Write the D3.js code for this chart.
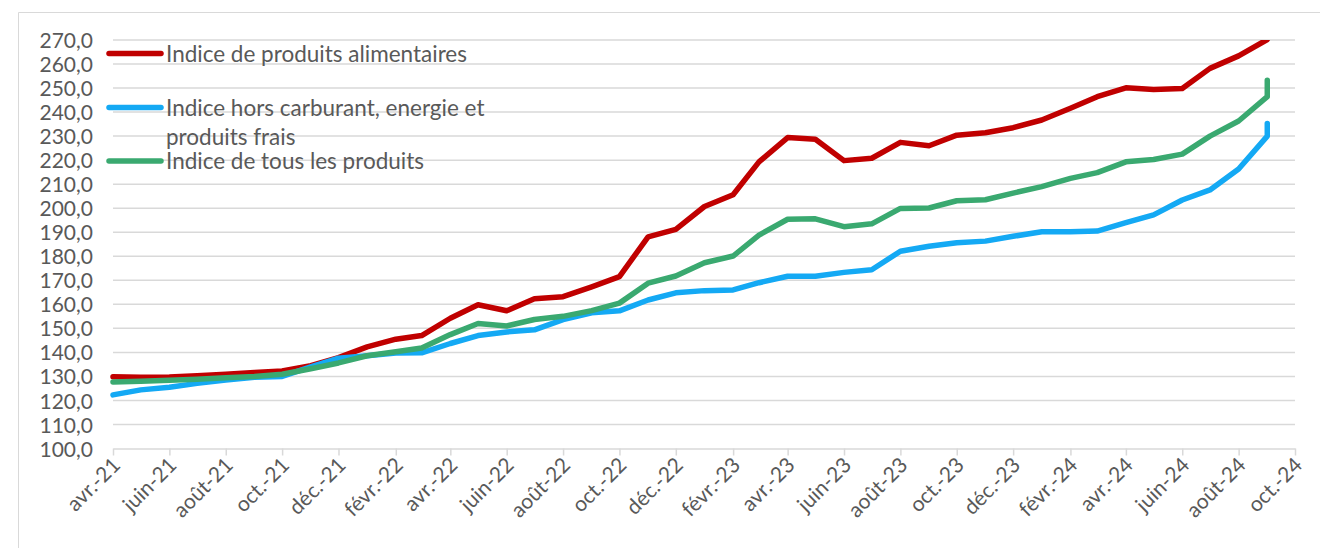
<!DOCTYPE html>
<html>
<head>
<meta charset="utf-8">
<script src="https://cdn.jsdelivr.net/npm/d3@7"></script>
<style>
	body {margin: 0; background: #fff;}
	text {font-family: Lato, 'Open Sans', sans-serif; fill: #595959;}
</style>
</head>
<body>
<svg id="chart" width="1320" height="548"></svg>
<script>
(function(){
	'use strict';

	// one point per month, the last month is given twice (revised value)
	var months = [
		'2021-04','2021-05','2021-06','2021-07','2021-08','2021-09','2021-10','2021-11','2021-12',
		'2022-01','2022-02','2022-03','2022-04','2022-05','2022-06','2022-07','2022-08','2022-09','2022-10','2022-11','2022-12',
		'2023-01','2023-02','2023-03','2023-04','2023-05','2023-06','2023-07','2023-08','2023-09','2023-10','2023-11','2023-12',
		'2024-01','2024-02','2024-03','2024-04','2024-05','2024-06','2024-07','2024-08','2024-09','2024-09'];

	var alimentaires = [
		129.9,129.6,129.8,130.3,130.9,131.6,132.3,134.5,137.8,
		142.3,145.5,147.0,154.2,159.8,157.3,162.3,163.2,167.3,171.5,188.1,191.2,
		200.7,205.6,219.3,229.4,228.7,219.8,220.8,227.4,226.0,230.4,231.4,233.5,
		236.7,241.6,246.4,250.1,249.4,249.8,258.2,263.4,270.2,277.0];

	var horsCarburant = [
		122.3,124.4,125.5,127.1,128.5,129.6,130.0,134.0,137.6,
		138.6,139.7,139.8,143.7,147.0,148.5,149.4,153.6,156.5,157.3,161.8,164.8,
		165.7,166.0,169.0,171.7,171.7,173.3,174.4,182.1,184.2,185.6,186.3,188.3,
		190.2,190.2,190.5,194.0,197.2,203.4,207.6,216.3,230.0,235.3];

	var tousProduits = [
		127.7,128.0,128.4,128.8,129.4,130.0,130.9,133.2,135.6,
		138.6,140.3,141.8,147.4,152.0,151.0,153.7,155.0,157.4,160.5,168.8,171.8,
		177.3,180.1,188.8,195.4,195.6,192.3,193.5,199.9,200.1,203.1,203.5,206.3,
		209.0,212.4,214.8,219.3,220.3,222.5,230.0,236.3,246.4,253.3];

	var seriesNames = [
		['Indice de produits alimentaires'],
		['Indice hors carburant, energie et', 'produits frais'],
		['Indice de tous les produits']];
	var seriesColors = ['#c00000', '#14a9f4', '#3aa970'];

	var tickLabels = ['avr.-21','juin-21','août-21','oct.-21','déc.-21','févr.-22','avr.-22','juin-22',
		'août-22','oct.-22','déc.-22','févr.-23','avr.-23','juin-23','août-23','oct.-23','déc.-23',
		'févr.-24','avr.-24','juin-24','août-24','oct.-24'];

	var yTicks = [100,110,120,130,140,150,160,170,180,190,200,210,220,230,240,250,260,270];

	var parse = d3.utcParse('%Y-%m');
	var dates = months.map(function(m) {return parse(m);});
	var series = [alimentaires, horsCarburant, tousProduits];

	var svg = d3.select('#chart');
	var left = 113, right = 1295, top = 40, bottom = 448.5;

	var x = d3.scaleUtc()
		.domain([parse('2021-04'), parse('2024-10')])
		.range([left, right]);
	var y = d3.scaleLinear()
		.domain([100, 270])
		.range([bottom, top]);

	// chart area border
	svg.append('path')
		.attr('d', 'M18.5,548V12.5H1320')
		.attr('fill', 'none')
		.attr('stroke', '#d9d9d9')
		.attr('stroke-width', 1);

	svg.append('g')
		.selectAll('line').data(yTicks.slice(1)).enter().append('line')
		.attr('x1', left).attr('x2', right)
		.attr('y1', function(d) {return y(d);})
		.attr('y2', function(d) {return y(d);})
		.attr('stroke', '#d9d9d9')
		.attr('stroke-width', 1.5);

	var yAxis = svg.append('g')
		.attr('transform', 'translate(' + left + ',0)')
		.call(d3.axisLeft(y)
			.tickValues(yTicks)
			.tickSize(0)
			.tickPadding(20)
			.tickFormat(function(d) {return d3.format('.1f')(d).replace('.', ',');}));
	yAxis.select('.domain').remove();
	yAxis.selectAll('text')
		.attr('font-size', 21)
		.attr('font-family', null)
		.attr('dy', '0.36em');

	var tickDates = d3.utcMonth.range(parse('2021-04'), parse('2024-11'), 2);
	var xAxis = svg.append('g')
		.attr('transform', 'translate(0,' + bottom + ')')
		.call(d3.axisBottom(x)
			.tickValues(tickDates)
			.tickSize(7)
			.tickSizeOuter(0)
			.tickFormat(function(d, i) {return tickLabels[i];}));
	xAxis.select('.domain').attr('stroke', '#d9d9d9').attr('stroke-width', 1.5);
	xAxis.selectAll('.tick line').attr('stroke', '#d9d9d9').attr('stroke-width', 1.5);
	xAxis.selectAll('text')
		.attr('font-size', 21)
		.attr('font-family', null)
		.attr('text-anchor', 'end')
		.attr('dy', null)
		.attr('y', 0)
		.attr('transform', 'translate(8,18) rotate(-45)');

	svg.append('clipPath').attr('id', 'plot')
		.append('rect')
		.attr('x', left - 5).attr('y', top)
		.attr('width', right - left + 10).attr('height', bottom - top);

	var line = d3.line()
		.x(function(d, i) {return x(dates[i]);})
		.y(function(d) {return y(d);});

	svg.append('g')
		.attr('clip-path', 'url(#plot)')
		.selectAll('path').data(series).enter().append('path')
		.attr('d', function(d) {return line(d);})
		.attr('fill', 'none')
		.attr('stroke', function(d, i) {return seriesColors[i];})
		.attr('stroke-width', 5.5)
		.attr('stroke-linejoin', 'round')
		.attr('stroke-linecap', 'round');

	// legend, drawn straight over the grid
	var legendY = [53.5, 107.5, 161];
	var legend = svg.append('g').selectAll('g').data(seriesNames).enter().append('g')
		.attr('transform', function(d, i) {return 'translate(0,' + legendY[i] + ')';});
	legend.append('line')
		.attr('x1', 109).attr('x2', 161)
		.attr('stroke', function(d, i) {return seriesColors[i];})
		.attr('stroke-width', 5.5)
		.attr('stroke-linecap', 'round');
	legend.selectAll('text').data(function(d) {return d;}).enter().append('text')
		.attr('x', 166)
		.attr('y', function(d, i) {return i * 29.5;})
		.attr('dy', '0.36em')
		.attr('font-size', 22.5)
		.text(function(d) {return d;});
})();
</script>
</body>
</html>
